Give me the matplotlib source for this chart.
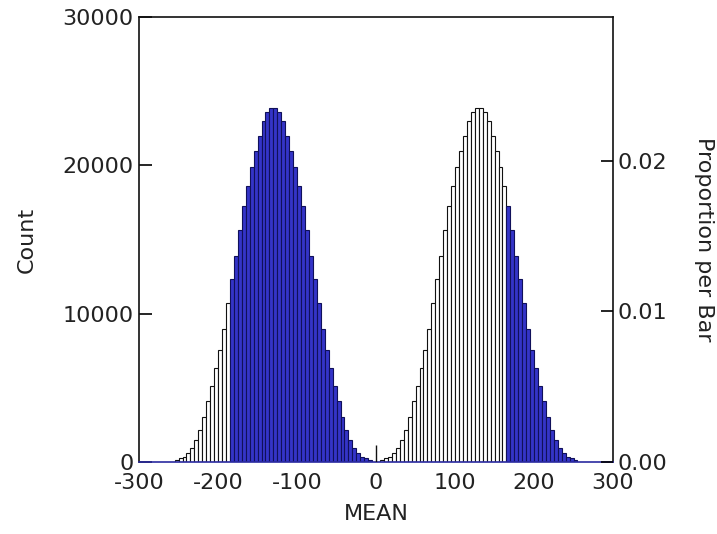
"""Bimodal histogram of MEAN with count / proportion-per-bar axes."""
import matplotlib
matplotlib.use("Agg")
import matplotlib.pyplot as plt
import numpy as np

plt.rcParams["font.family"] = ["DejaVu Sans"]
plt.rcParams["axes.unicode_minus"] = False

# ---- data ----
BIN_W = 5
# left peak: bins from -255 to -5, right peak: bins from 5 to 255
LEFT_START = -255
RIGHT_START = 5
LEFT_COUNTS = [120, 250, 360, 590, 920, 1490, 2160, 3060, 4080, 5090,
               6330, 7570, 8960, 10720, 12340, 13870, 15630, 17250, 18600, 19910,
               20970, 21980, 22990, 23600, 23890,
               23890, 23600, 22990, 21980, 20970, 19910, 18600, 17250, 15630, 13870,
               12340, 10720, 8960, 7570, 6330, 5090, 4080, 3060, 2160, 1490,
               920, 590, 360, 250, 120]
RIGHT_COUNTS = [120, 250, 360, 590, 920, 1490, 2160, 3060, 4080, 5090,
                6330, 7570, 8960, 10720, 12340, 13870, 15630, 17250, 18600, 19910,
                20970, 21980, 22990, 23600, 23890,
                23890, 23600, 22990, 21980, 20970, 19910, 18600, 17250, 15630, 13870,
                12340, 10720, 8960, 7570, 6330, 5090, 4080, 3060, 2160, 1490,
                920, 590, 360, 250, 120]
SPIKE_X = [0]
SPIKE_COUNT = [1150]
BLUE_RANGES = [(-185, 0), (165, 300)]
N_TOTAL = 1_015_000

X_TICKS = [-300, -200, -100, 0, 100, 200, 300]
Y_TICKS = [0, 10000, 20000, 30000]
P_TICKS = [0.00, 0.01, 0.02]

# ---- palette ----
BLUE = "#3434c8"
BLUE_E = "#10105a"
WHITE = "#ffffff"
BLACK = "#111111"
TXT = "#222222"
FS = 16

left_edges = LEFT_START + BIN_W * np.arange(len(LEFT_COUNTS))
right_edges = RIGHT_START + BIN_W * np.arange(len(RIGHT_COUNTS))
edges = np.concatenate([left_edges, right_edges])
counts = np.array(LEFT_COUNTS + RIGHT_COUNTS)


def in_blue(x0):
    return any(a <= x0 < b for a, b in BLUE_RANGES)


fc = [BLUE if in_blue(e) else WHITE for e in edges]
ec = [BLUE_E if in_blue(e) else BLACK for e in edges]

fig = plt.figure(figsize=(7.17, 5.34), dpi=100)
ax = fig.add_axes([0.194, 0.135, 0.661, 0.833])

ax.bar(edges, counts, width=BIN_W, align="edge", color=fc, edgecolor=ec,
       linewidth=0.8, zorder=2)
ax.vlines(SPIKE_X, 0, SPIKE_COUNT, color=BLACK, lw=1.0, zorder=3)

ax.set_xlim(-300, 300)
ax.set_ylim(0, 30000)
ax.set_xticks(X_TICKS)
ax.set_yticks(Y_TICKS)
ax.tick_params(axis="x", length=0, pad=8, labelsize=FS, labelcolor=TXT)
ax.tick_params(axis="y", direction="in", length=9, width=1.2, pad=4,
               labelsize=FS, labelcolor=TXT)
for s in ("left", "top", "right"):
    ax.spines[s].set_color(BLACK)
    ax.spines[s].set_linewidth(1.2)
ax.spines["bottom"].set_color("#2a2aa0")
ax.spines["bottom"].set_linewidth(1.2)
ax.set_xlabel("MEAN", fontsize=FS, color=TXT, va="center")
ax.set_ylabel("Count", fontsize=FS, color=TXT, va="center")
ax.xaxis.set_label_coords(0.5, -0.117)
ax.yaxis.set_label_coords(-0.236, 0.5)

ax2 = ax.twinx()
ax2.set_ylim(0, 30000 / N_TOTAL)
ax2.set_yticks(P_TICKS)
ax2.set_yticklabels([f"{p:.2f}" for p in P_TICKS])
ax2.tick_params(axis="y", direction="in", length=9, width=1.2, pad=3,
                labelsize=FS, labelcolor=TXT)
for s in ax2.spines.values():
    s.set_visible(False)
ax2.set_ylabel("Proportion per Bar", fontsize=FS, color=TXT, rotation=270,
               va="center")
ax2.yaxis.set_label_coords(1.192, 0.5)

fig.savefig("out.png", dpi=100, facecolor="white")
